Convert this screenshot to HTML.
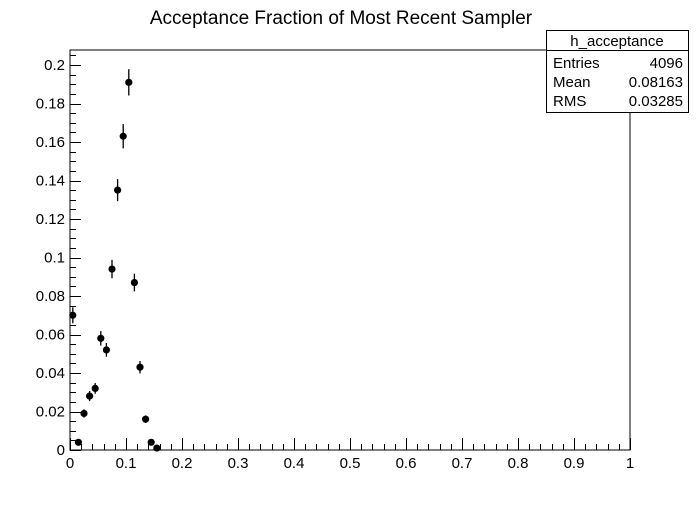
<!DOCTYPE html>
<html><head><meta charset="utf-8"><style>
body{margin:0;background:#fff;}
svg text{font-family:"Liberation Sans",sans-serif;}
</style></head><body>
<svg id="chart" width="700" height="500" viewBox="0 0 700 500">
<rect x="0" y="0" width="700" height="500" fill="#fff"/>
<text x="341" y="24" font-size="19" text-anchor="middle">Acceptance Fraction of Most Recent Sampler</text>
<rect x="70" y="50" width="560" height="400" fill="none" stroke="#000" stroke-width="1"/>
<g id="axes"></g>
<g id="marks"></g>
<g>
<rect x="546.5" y="30.5" width="142" height="82" fill="#fff" stroke="#000"/>
<line x1="546.5" y1="50.5" x2="688.5" y2="50.5" stroke="#000"/>
<text x="617" y="46" font-size="15" text-anchor="middle">h_acceptance</text>
<text x="553" y="68" font-size="15">Entries</text>
<text x="683" y="68" font-size="15" text-anchor="end">4096</text>
<text x="553" y="87" font-size="15">Mean</text>
<text x="683" y="87" font-size="15" text-anchor="end">0.08163</text>
<text x="553" y="106" font-size="15">RMS</text>
<text x="683" y="106" font-size="15" text-anchor="end">0.03285</text>
</g>
</svg>
<script>
const binCenters=[0.005,0.015,0.025,0.035,0.045,0.055,0.065,0.075,0.085,0.095,0.105,0.115,0.125,0.135,0.145,0.155];
const binValues=[0.070,0.004,0.019,0.028,0.032,0.058,0.052,0.094,0.135,0.163,0.191,0.087,0.043,0.016,0.004,0.001];
const entries=4096;
const xTickLabels=["0","0.1","0.2","0.3","0.4","0.5","0.6","0.7","0.8","0.9","1"];
const yTickLabels=["0","0.02","0.04","0.06","0.08","0.1","0.12","0.14","0.16","0.18","0.2"];
const NS="http://www.w3.org/2000/svg";
const X0=70,X1=630,Y0=450,YTOP=50,YMAX=0.2078;
function sx(v){return X0+(v-0)/(1-0)*(X1-X0);}
function sy(v){return Y0-v/YMAX*(Y0-YTOP);}
function mk(t,a,p){const e=document.createElementNS(NS,t);for(const k in a)e.setAttribute(k,a[k]);p.appendChild(e);return e;}
const axes=document.getElementById('axes');
// x ticks
for(let i=0;i<=50;i++){const v=i*0.02;const x=Math.round(sx(v))+0.5;const len=(i%5===0)?12:(i%5===0?8:6);
 const l=mk('line',{x1:x,y1:Y0,x2:x,y2:Y0-len,stroke:'#000'},axes);
 
 }
xTickLabels.forEach((s,i)=>{const t=mk('text',{x:sx(parseFloat(s)),y:468,'font-size':15,'text-anchor':'middle'},axes);t.textContent=s;
 
 });
// y ticks
for(let i=0;i*0.005<=YMAX;i++){const v=i*0.005;const y=Math.round(sy(v))+0.5;const len=(i%4===0)?11:6;
 const l=mk('line',{x1:X0,y1:y,x2:X0+len,y2:y,stroke:'#000'},axes);
 
 }
yTickLabels.forEach((s)=>{const t=mk('text',{x:65,y:sy(parseFloat(s))+5,'font-size':15,'text-anchor':'end'},axes);t.textContent=s;
 
 });
// marks
const marks=document.getElementById('marks');
binCenters.forEach((c,i)=>{const v=binValues[i];const err=Math.sqrt(v*entries)/entries;
 const g=mk('g',{},marks);
 
 
 const x=sx(c);
 mk('line',{x1:x,y1:sy(v+err),x2:x,y2:Math.min(Y0,sy(v-err)),stroke:'#000','stroke-width':1.3},g);
 mk('circle',{cx:x,cy:sy(v),r:3.6,fill:'#000'},g);});
</script>
</body></html>
